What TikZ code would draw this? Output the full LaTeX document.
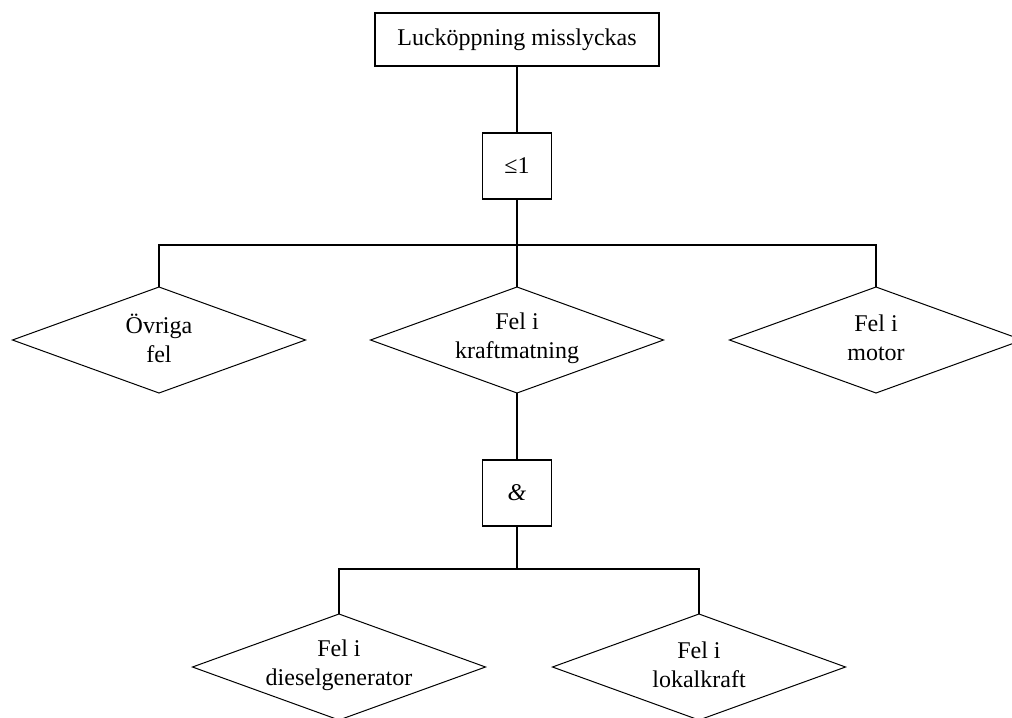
\documentclass[tikz,border=0pt]{standalone}
\usepackage{fontspec}
\setmainfont{Liberation Serif}
\newfontface\ampfont{Liberation Serif Italic}
\usetikzlibrary{shapes.geometric}
\begin{document}
\begin{tikzpicture}[x=0.75pt,y=-0.75pt,
  txt/.style={font=\fontsize{18pt}{21.75pt}\selectfont, align=center, inner sep=0pt},
  topbox/.style={draw, line width=1.1pt, inner sep=0pt, outer sep=0pt, minimum width=213pt, minimum height=39.75pt, txt},
  gate/.style={draw, line width=1.1pt, inner sep=0pt, outer sep=0pt, minimum width=51.75pt, minimum height=49.5pt, txt},
  event/.style={draw, diamond, line width=0.75pt, inner sep=0pt, outer sep=0pt, minimum width=219.75pt, minimum height=79.5pt},
  conn/.style={line width=1.1pt}
]
\useasboundingbox (0,0) rectangle (1012,717);
\node[topbox] (top) at (517,39.5) {Lucköppning misslyckas};
\node[gate] (or) at (517,166) {≤1};
\node[event] (d1) at (159,340) {};
\node[txt] (t1) at (159,338) {Övriga\\fel};
\node[event] (d2) at (517,340) {};
\node[txt] (t2) at (517,338) {Fel i\\kraftmatning};
\node[event] (d3) at (876,340) {};
\node[txt] (t3) at (876,338) {Fel i\\motor};
\node[gate] (and) at (517,493) {\ampfont\&};
\node[event] (d4) at (339,667) {};
\node[txt] (t4) at (339,665) {Fel i\\dieselgenerator};
\node[event] (d5) at (699,667) {};
\node[txt] (t5) at (699,665) {Fel i\\lokalkraft};
\coordinate (j1) at (517,245);
\coordinate (j2) at (517,569);
\draw[conn] (top.south) -- (or.north);
\draw[conn] (or.south) -- (j1);
\draw[conn] (j1) -| (d1.north);
\draw[conn] (j1) -| (d3.north);
\draw[conn] (j1) -- (d2.north);
\draw[conn] (d2.south) -- (and.north);
\draw[conn] (and.south) -- (j2);
\draw[conn] (j2) -| (d4.north);
\draw[conn] (j2) -| (d5.north);
\end{tikzpicture}
\end{document}
